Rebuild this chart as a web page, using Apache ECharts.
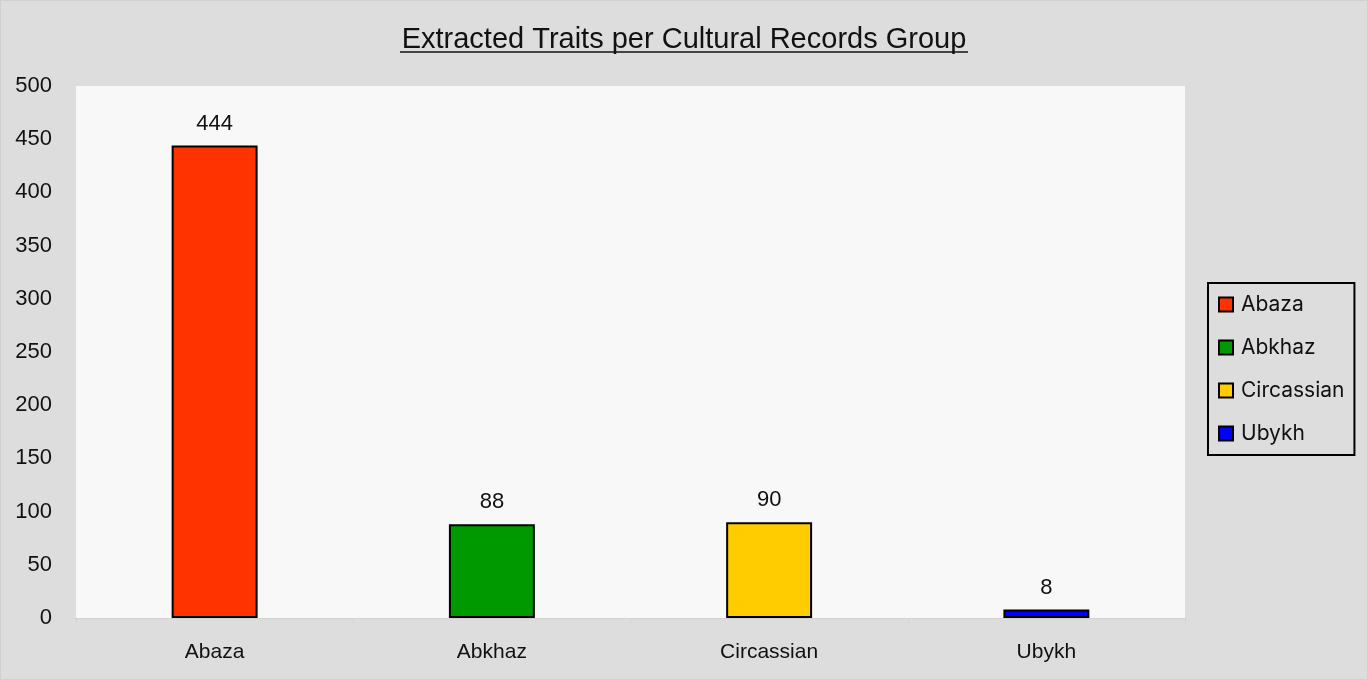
<!DOCTYPE html>
<html>
<head>
<meta charset="utf-8">
<script src="https://cdn.jsdelivr.net/npm/echarts@6/dist/echarts.min.js"></script>
<style>
  html, body { margin: 0; padding: 0; background: #dddddd; }
  #chart { width: 1368px; height: 680px; box-sizing: border-box; border: 1px solid #d0d0d0; }
</style>
</head>
<body>
<div id="chart"></div>
<script>
var groups = ['Abaza', 'Abkhaz', 'Circassian', 'Ubykh'];
var traits = [444, 88, 90, 8];
var colors = ['#ff3300', '#009900', '#ffcc00', '#0000ff'];
var yTicks = [0, 50, 100, 150, 200, 250, 300, 350, 400, 450, 500];

var chartDom = document.getElementById('chart');
var myChart = echarts.init(chartDom);
var option;

// one series per group so each gets its own legend entry, stacked so bars stay centred
var series = groups.map(function (name, i) {
    var data = groups.map(function (g, j) { return j === i ? traits[i] : null; });
    return {
        name: name,
        type: 'bar',
        stack: 'all',
        barWidth: '31%',
        data: data,
        itemStyle: { color: colors[i], borderColor: '#000', borderWidth: 2 },
        label: {
            show: true,
            position: 'top',
            distance: 11,
            color: '#111',
            fontSize: 22,
            fontFamily: 'Liberation Sans'
        }
    };
});

option = {
    backgroundColor: '#dddddd',
    animation: false,
    title: {
        text: 'Extracted Traits per Cultural Records Group',
        left: 'center',
        top: 19,
        textStyle: { fontSize: 29, fontWeight: 'normal', color: '#111', fontFamily: 'Liberation Sans' }
    },
    graphic: [{
        type: 'line',
        shape: { x1: 399, y1: 51, x2: 967, y2: 51 },
        style: { stroke: '#111', lineWidth: 1.5 }
    }],
    legend: {
        orient: 'vertical',
        left: 1207,
        top: 282,
        data: groups,
        icon: 'rect',
        itemWidth: 14,
        itemHeight: 14,
        itemGap: 22,
        padding: [11, 10, 11, 10],
        borderColor: '#000',
        borderWidth: 2,
        textStyle: { fontSize: 21, color: '#111', fontFamily: 'Inter', padding: [0, 0, 0, 3] },
        itemStyle: { borderColor: '#000', borderWidth: 2 }
    },
    grid: { left: 75, right: 182, top: 85, bottom: 61, show: true, backgroundColor: '#f8f8f8', borderWidth: 0 },
    xAxis: {
        type: 'category',
        data: groups,
        axisLine: { lineStyle: { color: '#d2d2d2', width: 1 } },
        axisTick: { show: true, length: 5, lineStyle: { color: '#d2d2d2' } },
        axisLabel: { fontSize: 21, color: '#111', margin: 24, fontFamily: 'Liberation Sans' }
    },
    yAxis: {
        type: 'value',
        min: yTicks[0],
        max: yTicks[yTicks.length - 1],
        interval: 50,
        splitLine: { show: false },
        axisLine: { show: false },
        axisTick: { show: false },
        axisLabel: { fontSize: 22, color: '#111', margin: 24, padding: [6, 0, 0, 0], fontFamily: 'Liberation Sans' }
    },
    series: series
};

option && myChart.setOption(option);
</script>
</body>
</html>
